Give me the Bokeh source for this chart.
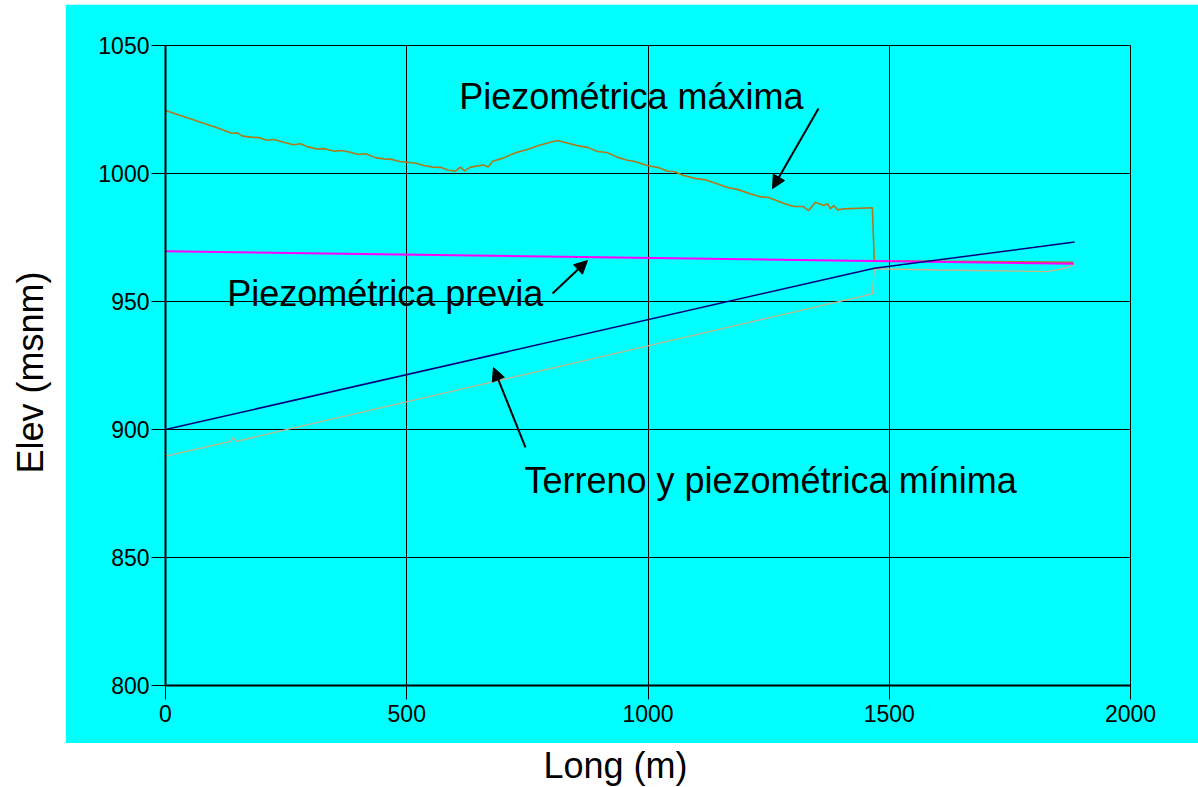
import math
from bokeh.plotting import figure
from bokeh.models import Range1d, Label, Arrow, NormalHead, FixedTicker, Spacer
from bokeh.layouts import row, column
from bokeh.embed import file_html
from bokeh.resources import INLINE

# ---------------- data ----------------
x_ticks = [0, 500, 1000, 1500, 2000]
y_ticks = [800, 850, 900, 950, 1000, 1050]

# Piezométrica máxima
max_x = [0, 104, 138, 150, 160, 176, 195, 210, 225, 245, 265, 280, 295, 314,
         330, 350, 365, 383, 400, 415, 435, 452, 470, 485, 501, 520, 535, 555,
         570, 585, 601, 611, 620, 632, 659, 669, 678, 700, 715, 729, 750, 775,
         798, 812, 853, 875, 895, 915, 936, 955, 975, 998, 1020, 1040, 1055,
         1074, 1100, 1120, 1143, 1165, 1185, 1212, 1230, 1250, 1281, 1302,
         1322, 1333, 1347, 1364, 1372, 1378, 1385, 1393, 1405, 1465, 1469,
         1882]
max_y = [1024.6, 1018.1, 1015.7, 1015.8, 1014.6, 1014.2, 1014.0, 1013.0,
         1013.3, 1012.2, 1011.2, 1011.6, 1010.4, 1009.6, 1009.7, 1008.7,
         1009.0, 1008.3, 1007.4, 1007.7, 1006.2, 1005.7, 1005.5, 1004.7,
         1004.4, 1004.0, 1003.1, 1002.5, 1002.4, 1001.4, 1000.9, 1002.5,
         1001.0, 1002.5, 1003.3, 1002.5, 1004.8, 1006.0, 1007.3, 1008.3,
         1009.4, 1011.0, 1012.2, 1012.9, 1010.9, 1010.2, 1008.6, 1008.2,
         1006.4, 1005.3, 1004.6, 1003.1, 1002.4, 1001.0, 1000.7, 999.2, 998.0,
         997.5, 996.0, 994.5, 993.8, 992.1, 991.0, 990.6, 988.4, 987.1, 987.1,
         985.5, 988.8, 987.5, 988.2, 986.2, 987.5, 985.8, 986.2, 986.6, 965.9,
         965.3]

# Piezométrica previa
prev_x = [0, 1882]
prev_y = [969.6, 964.7]

# Terreno
terr_x = [0, 1469, 1884]
terr_y = [900.0, 963.0, 973.2]

# Piezométrica mínima
min_x = [0, 135, 140, 147, 1465, 1469, 1600, 1827, 1862, 1876, 1884]
min_y = [889.6, 895.4, 897.0, 895.4, 953.0, 962.8, 962.3, 961.7, 962.8,
         963.7, 964.7]

FONT = "Liberation Sans"
CYAN = "#00FFFF"

# ---------------- main chart ----------------
p = figure(width=1133, height=739,
           x_range=Range1d(0, 2000), y_range=Range1d(800, 1050),
           output_backend="svg", toolbar_location=None,
           min_border_left=100, min_border_right=68,
           min_border_top=41, min_border_bottom=58,
           background_fill_color=CYAN, border_fill_color=CYAN,
           outline_line_color="black", outline_line_width=1)

p.xaxis.ticker = FixedTicker(ticks=x_ticks)
p.yaxis.ticker = FixedTicker(ticks=y_ticks)
for ax in (p.xaxis, p.yaxis):
    ax.axis_line_color = "black"
    ax.axis_line_width = 2
    ax.major_tick_line_color = "black"
    ax.major_tick_line_width = 1
    ax.major_tick_in = 13
    ax.major_tick_out = 14
    ax.minor_tick_line_color = None
    ax.major_label_text_font = FONT
    ax.major_label_text_font_size = "23px"
    ax.major_label_text_color = "black"
p.xaxis.major_label_standoff = 5
p.yaxis.major_label_standoff = 2

p.xgrid.ticker = FixedTicker(ticks=x_ticks)
p.ygrid.ticker = FixedTicker(ticks=y_ticks)
p.grid.grid_line_color = "black"
p.grid.grid_line_width = 1
p.grid.grid_line_alpha = 1.0

p.line(min_x, min_y, line_color="#C8B68A", line_width=1.3)
p.line(max_x, max_y, line_color="#B07818", line_width=1.6)
p.line(prev_x, prev_y, line_color="#FF00FF", line_width=2)
p.line(terr_x, terr_y, line_color="#000080", line_width=1.5)

# annotations
labels = [
    ("Piezométrica máxima", 609, 1029.9),
    ("Piezométrica previa", 128, 953.3),
    ("Terreno y piezométrica mínima", 744, 879.9),
]
for txt, lx, ly in labels:
    p.add_layout(Label(x=lx, y=ly, text=txt, text_font=FONT,
                       text_font_size="36px", text_color="black",
                       text_align="left", text_baseline="alphabetic"))

arrows = [
    (1353.4, 1025.4, 1258.0, 994.1),
    (802.1, 953.1, 874.6, 966.0),
    (746.1, 893.0, 679.8, 924.2),
]
for xs, ys, xe, ye in arrows:
    p.add_layout(Arrow(end=NormalHead(size=13, fill_color="black",
                                      line_color="black"),
                       x_start=xs, y_start=ys, x_end=xe, y_end=ye,
                       line_color="black", line_width=2))

# ---------------- axis titles (outside the cyan area) ----------------
ylab = figure(width=65, height=787, x_range=Range1d(0, 65),
              y_range=Range1d(0, 787), output_backend="svg",
              toolbar_location=None, min_border=0,
              x_axis_type=None, y_axis_type=None, outline_line_color=None,
              background_fill_color="white", border_fill_color="white")
ylab.grid.visible = False
ylab.add_layout(Label(x=30, y=415, text="Elev (msnm)", angle=math.pi / 2,
                      text_font=FONT, text_font_size="36px",
                      text_color="black", text_align="center",
                      text_baseline="middle"))

# this figure's frame is aligned with the main frame (page x 165..1130)
xlab = figure(width=1133, height=44, x_range=Range1d(0, 965),
              y_range=Range1d(0, 44), output_backend="svg",
              toolbar_location=None, min_border=0,
              x_axis_type=None, y_axis_type=None, outline_line_color=None,
              background_fill_color="white", border_fill_color="white")
xlab.grid.visible = False
xlab.add_layout(Label(x=378, y=22.5, text="Long (m)", text_font=FONT,
                      text_font_size="36px", text_color="black",
                      text_align="left", text_baseline="alphabetic"))

layout = row(ylab, column(Spacer(width=1133, height=4), p, xlab))

open("out.html", "w").write(file_html(layout, INLINE))
